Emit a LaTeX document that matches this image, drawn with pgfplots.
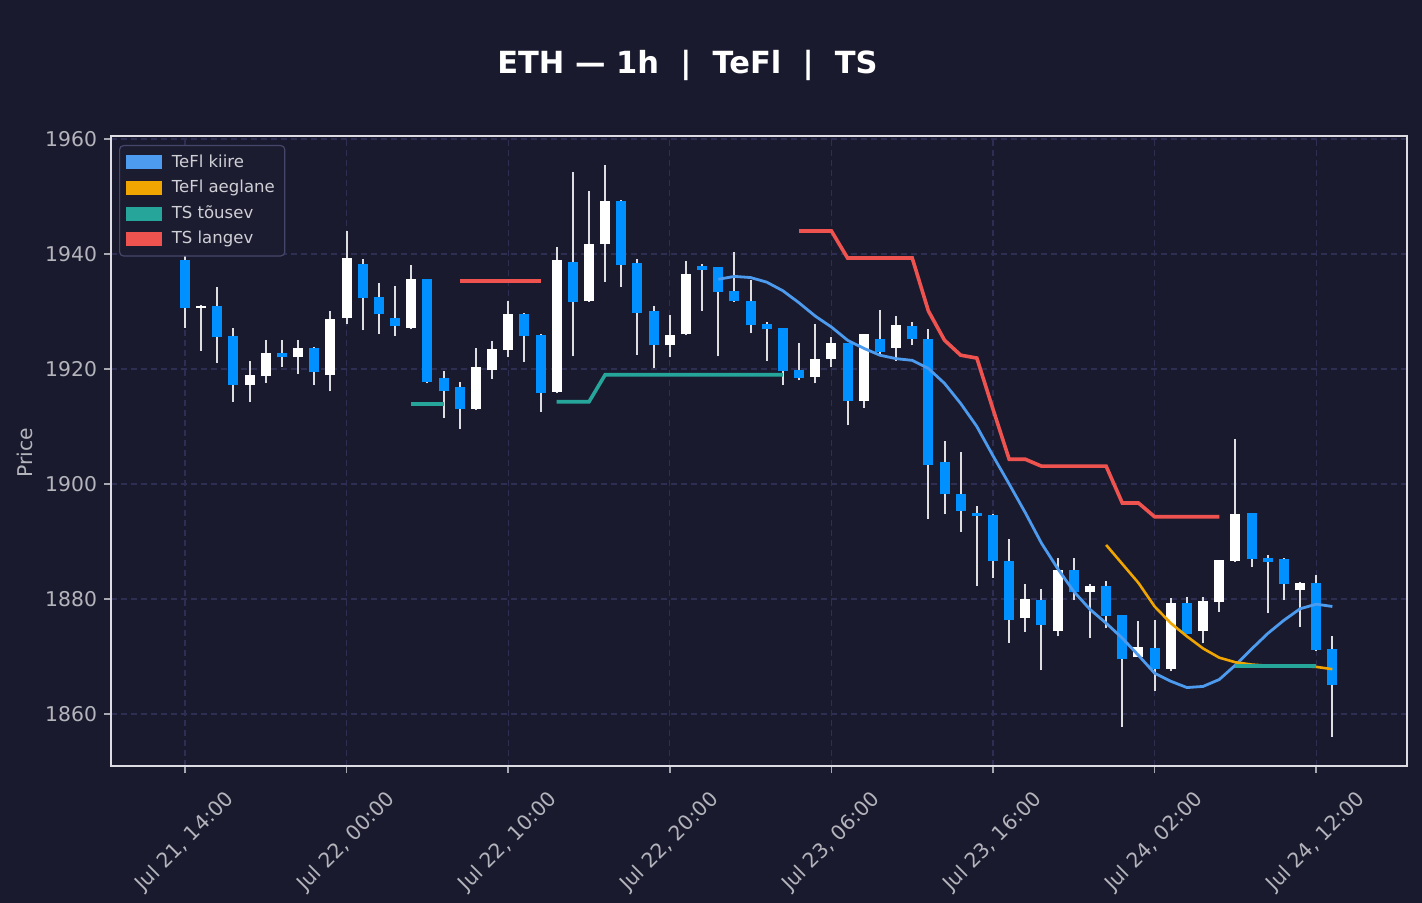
\documentclass[border=0pt]{standalone}
\usepackage{fontspec}
\setmainfont{DejaVu Sans}
\usepackage{pgfplots}
\pgfplotsset{compat=1.18}
\usepackage{pgfplotstable}
\definecolor{bg}{HTML}{1A1A2E}
\definecolor{spine}{HTML}{DCDCE2}
\definecolor{ticklab}{HTML}{B4B4BC}
\definecolor{tickcol}{HTML}{A8A8B0}
\definecolor{gridcol}{HTML}{2E2E52}
\definecolor{upcol}{HTML}{FFFFFF}
\definecolor{downcol}{HTML}{0090FF}
\definecolor{wickcol}{HTML}{DDDDE2}
\definecolor{kiire}{HTML}{4C9BEF}
\definecolor{aeglane}{HTML}{F0A500}
\definecolor{tousev}{HTML}{26A69A}
\definecolor{langev}{HTML}{EF5350}
\definecolor{legbg}{HTML}{1C1C30}
\definecolor{legdraw}{HTML}{46466A}
\definecolor{legtext}{HTML}{CFCFD6}

\pgfplotstableread{
i O H L C
0 1938.9 1941.0 1927.2 1930.6
1 1930.6 1931.1 1923.2 1931.0
2 1930.9 1934.2 1921.1 1925.5
3 1925.7 1927.1 1914.3 1917.3
4 1917.3 1921.4 1914.3 1918.9
5 1918.7 1925.0 1917.6 1922.7
6 1922.7 1925.0 1920.4 1922.0
7 1922.0 1925.0 1919.2 1923.7
8 1923.7 1923.8 1917.3 1919.4
9 1919.0 1930.1 1916.1 1928.7
10 1928.8 1944.0 1927.9 1939.3
11 1938.2 1939.1 1926.7 1932.3
12 1932.6 1935.0 1926.0 1929.5
13 1928.8 1934.4 1925.8 1927.4
14 1927.2 1938.1 1926.9 1935.6
15 1935.6 1935.7 1917.5 1917.8
16 1918.4 1919.7 1911.5 1916.1
17 1916.9 1917.7 1909.5 1913.0
18 1913.0 1923.7 1912.9 1920.3
19 1919.8 1924.9 1918.3 1923.4
20 1923.3 1931.8 1922.0 1929.5
21 1929.5 1929.7 1921.2 1925.7
22 1925.9 1926.1 1912.6 1915.8
23 1916.0 1941.2 1915.8 1938.9
24 1938.6 1954.3 1922.2 1931.6
25 1931.8 1951.0 1931.7 1941.7
26 1941.7 1955.5 1935.2 1949.2
27 1949.2 1949.4 1934.3 1938.0
28 1938.4 1939.1 1922.5 1929.8
29 1930.0 1931.0 1920.1 1924.1
30 1924.1 1929.4 1922.0 1925.9
31 1926.0 1938.8 1925.9 1936.6
32 1937.9 1938.3 1930.1 1937.2
33 1937.7 1937.8 1922.2 1933.4
34 1933.5 1940.3 1931.7 1931.8
35 1931.8 1935.5 1926.2 1927.6
36 1927.8 1928.2 1921.4 1926.9
37 1927.1 1927.2 1917.2 1919.6
38 1919.8 1924.6 1918.0 1918.4
39 1918.6 1927.8 1917.5 1921.7
40 1921.7 1925.5 1920.3 1924.5
41 1924.5 1924.6 1910.2 1914.4
42 1914.4 1926.1 1913.3 1926.0
43 1925.3 1930.3 1922.6 1922.9
44 1923.6 1929.2 1921.4 1927.6
45 1927.4 1928.1 1924.1 1925.2
46 1925.3 1926.9 1893.9 1903.3
47 1903.8 1907.4 1894.7 1898.2
48 1898.2 1905.5 1891.7 1895.3
49 1895.0 1896.1 1882.2 1894.4
50 1894.6 1894.7 1883.7 1886.6
51 1886.6 1890.4 1872.4 1876.3
52 1876.7 1882.6 1874.3 1880.0
53 1879.8 1881.7 1867.6 1875.4
54 1874.4 1887.1 1873.5 1885.0
55 1885.0 1887.1 1879.9 1881.3
56 1881.3 1882.6 1873.3 1882.2
57 1882.2 1883.1 1874.9 1877.0
58 1877.2 1877.3 1857.8 1869.5
59 1870.0 1876.2 1869.9 1871.6
60 1871.4 1876.3 1864.0 1867.8
61 1867.9 1880.1 1867.4 1879.3
62 1879.3 1880.3 1873.9 1874.0
63 1874.5 1880.3 1872.3 1879.6
64 1879.4 1886.8 1877.8 1886.7
65 1886.6 1907.8 1886.5 1894.7
66 1894.9 1895.0 1885.5 1886.9
67 1887.1 1887.6 1877.5 1886.4
68 1886.9 1887.1 1879.8 1882.6
69 1881.5 1882.9 1875.2 1882.7
70 1882.7 1884.1 1871.0 1871.1
71 1871.3 1873.5 1856.0 1865.0
}\candles

\pgfplotstableread{
i v
33 1935.6
34 1936.1
35 1935.9
36 1935.1
37 1933.6
38 1931.5
39 1929.2
40 1927.3
41 1925.0
42 1923.6
43 1922.4
44 1921.8
45 1921.5
46 1920.1
47 1917.5
48 1914.0
49 1910.0
50 1904.9
51 1900.0
52 1895.0
53 1889.7
54 1885.3
55 1881.3
56 1878.2
57 1875.8
58 1873.2
59 1870.2
60 1867.1
61 1865.7
62 1864.6
63 1864.8
64 1866.0
65 1868.5
66 1871.3
67 1874.0
68 1876.3
69 1878.3
70 1879.1
71 1878.7
}\kiiretab

\pgfplotstableread{
i v
57 1889.4
58 1886.1
59 1882.8
60 1878.7
61 1875.8
62 1873.5
63 1871.4
64 1869.8
65 1869.0
66 1868.6
67 1868.4
68 1868.3
69 1868.3
70 1868.2
71 1867.8
}\aeglanetab

\begin{document}
\begin{tikzpicture}
\fill[bg] (-55.5bp,-68.5bp) rectangle (655.5bp,383bp);
\begin{axis}[
  at={(0,0)}, anchor=south west,
  scale only axis, width=648bp, height=315bp,
  xmin=-4.58, xmax=75.62, ymin=1850.96, ymax=1960.52,
  axis background/.style={fill=bg},
  axis line style={color=spine, line width=1bp},
  tick align=outside, major tick length=3.5bp,
  tick style={color=tickcol, line width=0.8bp},
  xtick pos=bottom, ytick pos=left,
  xtick={0,10,20,30,40,50,60,70},
  xticklabels={{Jul 21, 14:00},{Jul 22, 00:00},{Jul 22, 10:00},{Jul 22, 20:00},{Jul 23, 06:00},{Jul 23, 16:00},{Jul 24, 02:00},{Jul 24, 12:00}},
  ytick={1860,1880,1900,1920,1940,1960},
  scaled y ticks=false,
  /pgf/number format/assume math mode=true,
  yticklabel style={/pgf/number format/1000 sep={}, font=\fontsize{10.2}{12}\selectfont, color=ticklab},
  xticklabel style={yshift=-34.5bp, rotate=45, anchor=center, font=\fontsize{10.2}{12}\selectfont, color=ticklab},
  grid=major,
  major grid style={dash pattern=on 3bp off 2bp, color=gridcol, line width=0.6bp},
  ylabel={Price},
  ylabel style={at={(axis description cs:-0.0664,0.497)}, anchor=center, font=\fontsize{10.2}{12}\selectfont, color=ticklab},
  legend cell align=left,
  legend style={at={(axis description cs:0,1)}, anchor=north west, xshift=4bp, yshift=-4.5bp,
    fill=legbg, draw=legdraw, line width=0.6bp, rounded corners=2bp,
    font=\fontsize{8.3}{9.9}\selectfont, text=legtext, row sep=1.0bp, inner xsep=3bp, inner ysep=2.5bp},
]
% wicks
\addplot[forget plot, draw=none, mark=none,
  error bars/.cd, y dir=plus, y explicit, error mark=none,
  error bar style={line width=1bp, draw=wickcol, solid}]
  table[x=i, y=L, y error plus expr=\thisrow{H}-\thisrow{L}] {\candles};
% up bodies
\addplot[forget plot, draw=none, mark=none,
  restrict expr to domain={\thisrow{C}-\thisrow{O}}{0:1000},
  error bars/.cd, y dir=plus, y explicit, error mark=none,
  error bar style={line width=5bp, line cap=butt, draw=upcol, solid}]
  table[x=i, y=O, y error plus expr=\thisrow{C}-\thisrow{O}] {\candles};
% down bodies
\addplot[forget plot, draw=none, mark=none,
  restrict expr to domain={\thisrow{O}-\thisrow{C}}{0.0001:1000},
  error bars/.cd, y dir=plus, y explicit, error mark=none,
  error bar style={line width=5bp, line cap=butt, draw=downcol, solid}]
  table[x=i, y=C, y error plus expr=\thisrow{O}-\thisrow{C}] {\candles};
% lines
\addplot[forget plot, color=kiire, line width=1.4bp, mark=none] table[x=i, y=v] {\kiiretab};
\addplot[forget plot, color=aeglane, line width=1.3bp, mark=none] table[x=i, y=v] {\aeglanetab};
\addplot[forget plot, color=tousev, line width=1.8bp, mark=none] coordinates {(14,1913.9) (15,1913.9) (16,1913.9)};
\addplot[forget plot, color=tousev, line width=1.8bp, mark=none] coordinates {(23,1914.3) (24,1914.3) (25,1914.3) (26,1919.0) (27,1919.0) (28,1919.0) (29,1919.0) (30,1919.0) (31,1919.0) (32,1919.0) (33,1919.0) (34,1919.0) (35,1919.0) (36,1919.0) (37,1919.0)};
\addplot[forget plot, color=tousev, line width=1.8bp, mark=none] coordinates {(65,1868.3) (66,1868.3) (67,1868.3) (68,1868.3) (69,1868.3) (70,1868.3)};
\addplot[forget plot, color=langev, line width=1.8bp, mark=none] coordinates {(17,1935.3) (18,1935.3) (19,1935.3) (20,1935.3) (21,1935.3) (22,1935.3)};
\addplot[forget plot, color=langev, line width=1.8bp, mark=none] coordinates {(38,1944.0) (39,1944.0) (40,1944.0) (41,1939.3) (42,1939.3) (43,1939.3) (44,1939.3) (45,1939.3) (46,1930.1) (47,1925.0) (48,1922.4) (49,1921.9) (50,1913.0) (51,1904.3) (52,1904.3) (53,1903.1) (54,1903.1) (55,1903.1) (56,1903.1) (57,1903.1) (58,1896.7) (59,1896.7) (60,1894.3) (61,1894.3) (62,1894.3) (63,1894.3) (64,1894.3)};
% legend
\addlegendimage{legend image code/.code={\fill[kiire, sharp corners] (0bp,-3.2bp) rectangle (17.5bp,3.2bp); \path (0bp,0bp) (20.5bp,0bp);}}
\addlegendentry{TeFl kiire}
\addlegendimage{legend image code/.code={\fill[aeglane, sharp corners] (0bp,-3.2bp) rectangle (17.5bp,3.2bp); \path (0bp,0bp) (20.5bp,0bp);}}
\addlegendentry{TeFl aeglane}
\addlegendimage{legend image code/.code={\fill[tousev, sharp corners] (0bp,-3.2bp) rectangle (17.5bp,3.2bp); \path (0bp,0bp) (20.5bp,0bp);}}
\addlegendentry{TS tõusev}
\addlegendimage{legend image code/.code={\fill[langev, sharp corners] (0bp,-3.2bp) rectangle (17.5bp,3.2bp); \path (0bp,0bp) (20.5bp,0bp);}}
\addlegendentry{TS langev}
\end{axis}
\node[anchor=base, font=\bfseries\fontsize{15.3}{18}\selectfont, text=white] at (288.25bp,346bp) {ETH — 1h\ \ |\ \ TeFl\ \ |\ \ TS};
\pgfresetboundingbox
\path (-55.5bp,-68.5bp) rectangle (655.5bp,383bp);
\end{tikzpicture}
\end{document}
